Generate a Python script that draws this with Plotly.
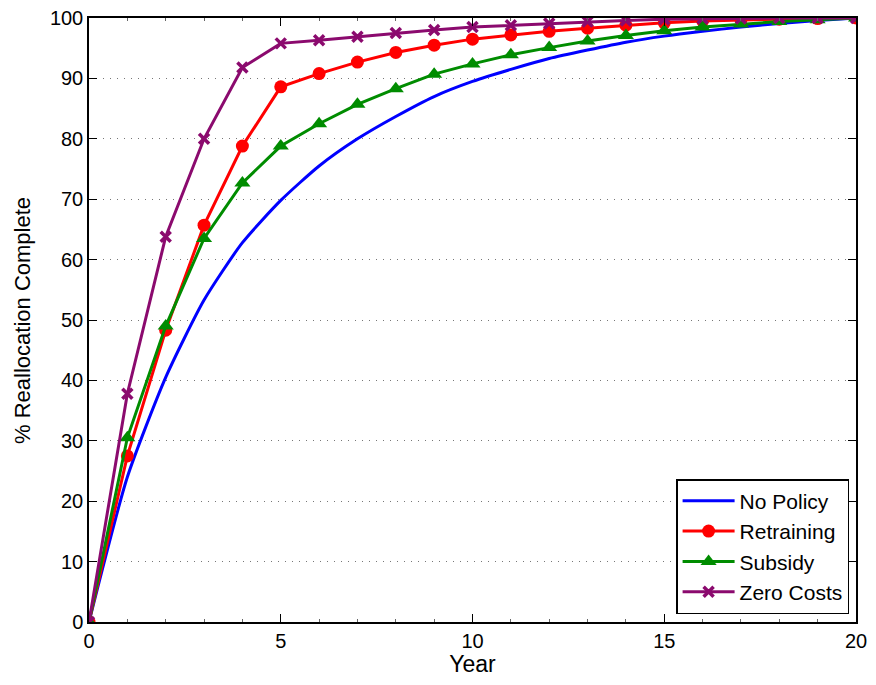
import plotly.graph_objects as go

years = list(range(0, 21))
no_policy = [0, 24, 40.5, 53.3, 62.8, 69.8, 75.5, 80, 83.7, 87, 89.5, 91.5, 93.3, 94.7, 96, 97, 97.8, 98.5, 99.1, 99.6, 100]
retraining = [0, 27.5, 48.3, 65.7, 78.8, 88.6, 90.8, 92.7, 94.3, 95.5, 96.5, 97.2, 97.8, 98.3, 98.8, 99.2, 99.5, 99.7, 99.8, 99.9, 100]
subsidy = [0, 30.5, 49, 63.5, 72.7, 78.8, 82.5, 85.7, 88.3, 90.7, 92.4, 93.9, 95.1, 96.2, 97.1, 97.9, 98.5, 99, 99.4, 99.7, 100]
zero_costs = [0, 37.8, 63.8, 80, 91.8, 95.8, 96.3, 96.9, 97.5, 98, 98.5, 98.8, 99.1, 99.4, 99.6, 99.8, 99.9, 99.9, 100, 100, 100]

fig = go.Figure()
fig.add_trace(go.Scatter(x=years, y=no_policy, name="No Policy", mode="lines",
                         line=dict(color="#0000ff", width=3, shape="spline", smoothing=0.6)))
fig.add_trace(go.Scatter(x=years, y=retraining, name="Retraining", mode="lines+markers",
                         line=dict(color="#ff0000", width=3),
                         marker=dict(symbol="circle", size=13, color="#ff0000")))
fig.add_trace(go.Scatter(x=years, y=subsidy, name="Subsidy", mode="lines+markers",
                         line=dict(color="#008c00", width=3),
                         marker=dict(symbol="triangle-up", size=14, color="#008c00")))
fig.add_trace(go.Scatter(x=years, y=zero_costs, name="Zero Costs", mode="lines+markers",
                         line=dict(color="#8b0a6e", width=3),
                         marker=dict(symbol="x-thin", size=10, color="#8b0a6e",
                                     line=dict(width=3.5, color="#8b0a6e"))))
fig.update_traces(cliponaxis=True)

font = dict(family="Liberation Sans, Arial, sans-serif", size=20, color="black")
fig.update_layout(
    width=860, height=669,
    margin=dict(l=81, r=12, t=10, b=55, autoexpand=False),
    paper_bgcolor="white", plot_bgcolor="white",
    font=font,
    xaxis=dict(range=[0, 20], tickvals=[0, 5, 10, 15, 20], showgrid=False,
               showline=True, linecolor="black", linewidth=1.5, mirror="ticks",
               ticks="inside", ticklen=8, tickcolor="black", zeroline=False,
               automargin=False, ticklabeloverflow="allow",
               title=dict(text="Year", standoff=0, font=dict(size=23)),
               minor=dict(ticks="inside", ticklen=3, dtick=1, tickcolor="#666")),
    yaxis=dict(range=[0, 100], dtick=10, showgrid=True, gridcolor="#777",
               griddash="1px,6px", gridwidth=1,
               showline=True, linecolor="black", linewidth=1.5, mirror="ticks",
               ticks="inside", ticklen=8, tickcolor="black", zeroline=False,
               automargin=False, ticklabeloverflow="allow"),
    annotations=[dict(text="% Reallocation Complete", textangle=-90,
                      xref="paper", yref="paper", x=-0.0874, y=0.5,
                      xanchor="center", yanchor="middle", showarrow=False,
                      font=dict(size=22))],
    legend=dict(x=0.991, y=0.013, xanchor="right", yanchor="bottom",
                bordercolor="black", borderwidth=1.5, bgcolor="white",
                font=dict(family="Liberation Sans, Arial, sans-serif", size=21),
                tracegroupgap=0, itemwidth=52),
    showlegend=True,
)
fig.write_html("out.html")
